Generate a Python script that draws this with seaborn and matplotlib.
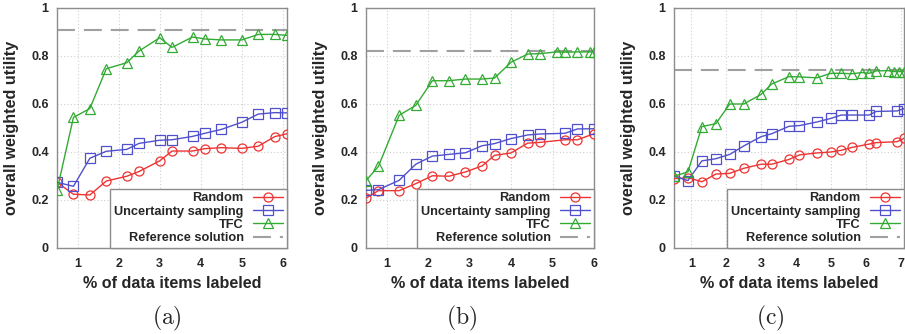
import numpy as np
import pandas as pd
import matplotlib
matplotlib.use("Agg")
import matplotlib.pyplot as plt
import seaborn as sns

# panel (a)
xa = [0.5, 0.9, 1.3, 1.7, 2.2, 2.5, 3.0, 3.3, 3.8, 4.1, 4.5, 5.0, 5.4, 5.8, 6.1]
rand_a = [0.274, 0.224, 0.221, 0.279, 0.299, 0.319, 0.363, 0.404, 0.404, 0.414, 0.418, 0.415, 0.424, 0.464, 0.476]
unc_a = [0.274, 0.257, 0.374, 0.403, 0.411, 0.436, 0.449, 0.451, 0.465, 0.478, 0.494, 0.524, 0.558, 0.564, 0.563]
tfc_xa = xa
tfc_a = [0.240, 0.544, 0.581, 0.747, 0.772, 0.821, 0.876, 0.836, 0.879, 0.871, 0.867, 0.867, 0.890, 0.890, 0.886]
ref_a = 0.907

# panel (b)
xb = [0.5, 0.8, 1.3, 1.7, 2.1, 2.5, 2.9, 3.3, 3.6, 4.0, 4.4, 4.7, 5.3, 5.6, 6.0]
rand_b = [0.208, 0.239, 0.239, 0.268, 0.301, 0.299, 0.317, 0.342, 0.386, 0.396, 0.437, 0.440, 0.451, 0.451, 0.476]
unc_b = [0.240, 0.243, 0.282, 0.349, 0.383, 0.390, 0.397, 0.426, 0.435, 0.456, 0.471, 0.475, 0.478, 0.496, 0.497]
tfc_xb = [0.5, 0.8, 1.3, 1.7, 2.1, 2.5, 2.9, 3.3, 3.6, 4.0, 4.4, 4.7, 5.1, 5.3, 5.6, 5.9, 6.0]
tfc_b = [0.281, 0.340, 0.553, 0.594, 0.697, 0.697, 0.704, 0.704, 0.708, 0.774, 0.808, 0.810, 0.817, 0.816, 0.817, 0.817, 0.817]
ref_b = 0.822

# panel (c)
xc = [0.5, 0.9, 1.3, 1.7, 2.1, 2.5, 3.0, 3.3, 3.8, 4.1, 4.6, 5.0, 5.3, 5.6, 6.1, 6.3, 6.9, 7.1]
rand_c = [0.289, 0.293, 0.276, 0.308, 0.311, 0.332, 0.349, 0.349, 0.369, 0.388, 0.396, 0.400, 0.407, 0.419, 0.433, 0.439, 0.443, 0.457]
unc_c = [0.299, 0.281, 0.363, 0.372, 0.390, 0.425, 0.464, 0.476, 0.507, 0.510, 0.525, 0.540, 0.554, 0.554, 0.554, 0.569, 0.571, 0.581]
tfc_xc = [0.5, 0.9, 1.3, 1.7, 2.1, 2.5, 3.0, 3.3, 3.8, 4.1, 4.6, 5.0, 5.3, 5.6, 5.9, 6.1, 6.3, 6.65, 6.8, 6.95, 7.1]
tfc_c = [0.299, 0.317, 0.506, 0.518, 0.600, 0.600, 0.640, 0.683, 0.714, 0.713, 0.709, 0.728, 0.728, 0.726, 0.731, 0.728, 0.738, 0.739, 0.735, 0.735, 0.735]
ref_c = 0.740

panels = [
    ("(a)", xa, rand_a, unc_a, tfc_xa, tfc_a, ref_a, 6.1, range(1, 7)),
    ("(b)", xb, rand_b, unc_b, tfc_xb, tfc_b, ref_b, 6.0, range(1, 7)),
    ("(c)", xc, rand_c, unc_c, tfc_xc, tfc_c, ref_c, 7.1, range(1, 8)),
]

sns.set_style("white")
plt.rcParams['font.family'] = ['Liberation Sans', 'DejaVu Sans']
plt.rcParams['font.weight'] = 'bold'
plt.rcParams['mathtext.fontset'] = 'cm'

red = '#ee3333'
blue = '#5050cc'
green = '#33aa33'
frame = '#8c8c8c'

fig = plt.figure(figsize=(9.05, 3.34), dpi=100)
lefts = [57, 366, 674]
widths = [230, 228, 230]
cap_x = [167, 462, 770]

for i, (cap, x, r, u, tx, t, ref, xmax, xt) in enumerate(panels):
    ax = fig.add_axes([lefts[i] / 905, 86 / 334, widths[i] / 905, 240 / 334])
    sns.lineplot(x=x, y=r, ax=ax, color=red, lw=1, marker='o', ms=6.5, mfc='none',
                 mec=red, mew=0.9, label='Random', zorder=3)
    sns.lineplot(x=x, y=u, ax=ax, color=blue, lw=1, marker='s', ms=6.5, mfc='none',
                 mec=blue, mew=0.9, label='Uncertainty sampling', zorder=3)
    sns.lineplot(x=tx, y=t, ax=ax, color=green, lw=1, marker='^', ms=7, mfc='none',
                 mec=green, mew=0.9, label='TFC', zorder=3)
    ax.axhline(ref, color='#a0a0a0', lw=1.5, dashes=(8.6, 4.3), label='Reference solution', zorder=2)

    ax.set_xlim(0.5, xmax)
    ax.set_ylim(0, 1)
    ax.set_xticks(list(xt))
    ax.set_yticks([0, 0.2, 0.4, 0.6, 0.8, 1])
    ax.set_yticklabels(['0', '0.2', '0.4', '0.6', '0.8', '1'])
    ax.grid(True, ls=(0, (1, 2)), color='#cfcfcf', lw=0.8)
    for s in ax.spines.values():
        s.set_color(frame)
        s.set_linewidth(1)
    ax.tick_params(direction='in', length=3, color=frame, labelsize=9, width=0.8)
    ax.tick_params(axis='x', pad=7)
    ax.tick_params(axis='y', pad=6)
    for lab in ax.get_xticklabels() + ax.get_yticklabels():
        lab.set_fontweight('bold')

    ax.set_xlabel('% of data items labeled', fontsize=11.6, fontweight='bold')
    ax.set_ylabel('overall weighted utility', fontsize=11.6, fontweight='bold')
    ax.xaxis.set_label_coords(0.5, -0.115)
    ax.yaxis.set_label_coords(-0.165, 0.5)

    leg = ax.legend(loc='lower right', markerfirst=False, fancybox=False, framealpha=1,
                    edgecolor=frame, borderaxespad=0, fontsize=9.2, labelspacing=0.1,
                    borderpad=0.3, handlelength=2.4, handletextpad=0.7)
    leg.get_frame().set_linewidth(1)
    for txt in leg.get_texts():
        txt.set_fontweight('bold')

    fig.text(cap_x[i] / 905, 0.046, r'$\mathrm{' + cap + '}$', fontsize=17,
             ha='center', va='center')

fig.savefig('out.png', dpi=100)
